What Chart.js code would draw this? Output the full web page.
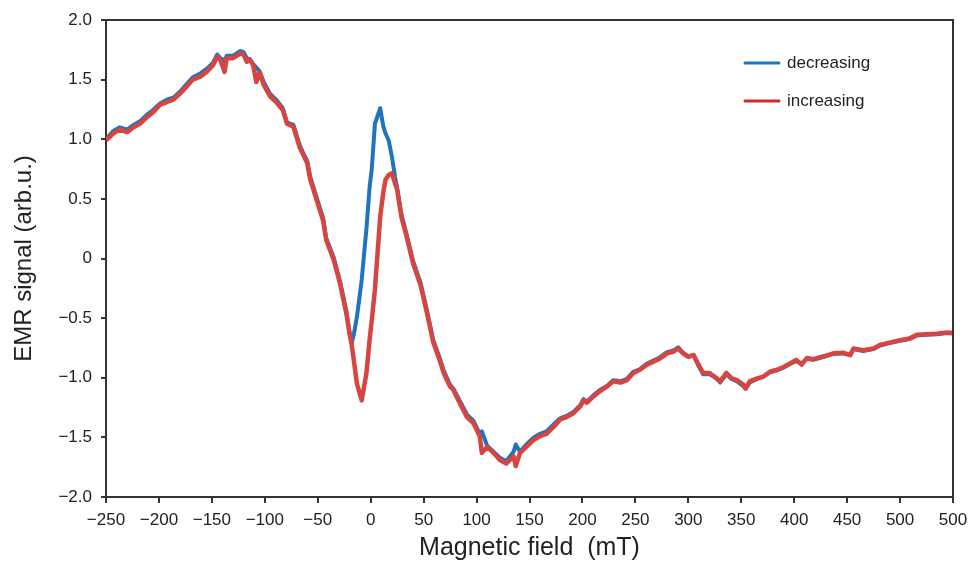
<!DOCTYPE html>
<html>
<head>
<meta charset="utf-8">
<script src="https://cdn.jsdelivr.net/npm/chart.js@4/dist/chart.umd.min.js"></script>
<style>
  html, body { margin: 0; padding: 0; background: #ffffff; }
  #wrap { width: 969px; height: 561px; position: relative; }
</style>
</head>
<body>
<div id="wrap"><canvas id="c" width="969" height="561"></canvas></div>
<script>
// ---- data ----
const field = [-250,-243,-237,-230,-224,-218,-212,-205,-199,-193,-186,-180,-174,-168,-161,-155,-149,-145,-142,-138,-136,-130,-123,-120,-117,-114,-111,-108,-105,-101,-95,-89,-83,-79,-73,-67,-63,-60,-57,-51,-45,-42,-35,-29,-23,-20,-18,-16,-13,-8.5,-4,-1,1,4,9,12,14,17,20,23,25,29,34,40,47,53,59,65,69,72,75,78,84,91,97,103,105,110,116,122,128,135,137,141,147,154,160,166,173,179,185,191,198,201,204,210,217,223,229,236,242,248,254,261,267,273,280,286,290.5,295,300,305,309,314,320,327,330,336,341,346,352,354,358,365,371,377,383,390,396,402,407,412,418,428,437,446,453,456,465,475,481,490,500,509,516,525,535,544,550];

const decreasing = [1.00,1.07,1.10,1.08,1.12,1.15,1.20,1.25,1.30,1.33,1.35,1.40,1.46,1.52,1.55,1.59,1.64,1.71,1.68,1.66,1.70,1.70,1.74,1.73,1.68,1.67,1.63,1.60,1.57,1.48,1.38,1.33,1.26,1.14,1.12,0.95,0.87,0.82,0.68,0.51,0.34,0.17,0.01,-0.19,-0.44,-0.62,-0.71,-0.64,-0.49,-0.18,0.25,0.60,0.75,1.13,1.26,1.105,1.05,0.99,0.855,0.685,0.59,0.37,0.20,-0.02,-0.20,-0.43,-0.68,-0.83,-0.94,-1.00,-1.06,-1.09,-1.19,-1.31,-1.36,-1.47,-1.45,-1.57,-1.62,-1.67,-1.70,-1.62,-1.56,-1.62,-1.56,-1.50,-1.47,-1.45,-1.39,-1.34,-1.32,-1.29,-1.23,-1.18,-1.20,-1.15,-1.10,-1.07,-1.02,-1.03,-1.01,-0.95,-0.93,-0.88,-0.855,-0.83,-0.785,-0.77,-0.745,-0.79,-0.82,-0.81,-0.89,-0.97,-0.97,-1.01,-1.04,-0.97,-1.01,-1.03,-1.07,-1.09,-1.04,-1.01,-0.99,-0.955,-0.94,-0.915,-0.885,-0.86,-0.88,-0.84,-0.85,-0.825,-0.80,-0.795,-0.81,-0.76,-0.775,-0.76,-0.73,-0.71,-0.69,-0.675,-0.645,-0.64,-0.635,-0.625,-0.63];

const increasing = [0.99,1.05,1.08,1.06,1.10,1.13,1.18,1.23,1.29,1.31,1.335,1.385,1.44,1.50,1.525,1.565,1.62,1.69,1.665,1.565,1.68,1.68,1.72,1.71,1.65,1.665,1.62,1.48,1.56,1.455,1.36,1.31,1.245,1.13,1.105,0.93,0.855,0.80,0.66,0.49,0.32,0.155,-0.01,-0.21,-0.46,-0.63,-0.72,-0.85,-1.05,-1.19,-0.96,-0.68,-0.52,-0.26,0.35,0.56,0.66,0.70,0.715,0.63,0.575,0.35,0.18,-0.04,-0.22,-0.45,-0.70,-0.85,-0.96,-1.02,-1.075,-1.10,-1.21,-1.33,-1.38,-1.49,-1.63,-1.58,-1.63,-1.69,-1.72,-1.66,-1.74,-1.63,-1.58,-1.52,-1.49,-1.47,-1.41,-1.35,-1.33,-1.30,-1.24,-1.19,-1.21,-1.16,-1.11,-1.075,-1.03,-1.04,-1.02,-0.96,-0.935,-0.89,-0.865,-0.84,-0.795,-0.78,-0.755,-0.795,-0.825,-0.81,-0.88,-0.96,-0.96,-1.005,-1.03,-0.96,-1.005,-1.02,-1.06,-1.09,-1.03,-1.005,-0.99,-0.95,-0.935,-0.91,-0.88,-0.85,-0.89,-0.835,-0.845,-0.82,-0.795,-0.79,-0.81,-0.755,-0.77,-0.755,-0.725,-0.705,-0.685,-0.67,-0.64,-0.635,-0.63,-0.62,-0.625];

// tick labels exactly as printed (the last one is printed "500" in the original)
const xTickLabels = ['\u2212250','\u2212200','\u2212150','\u2212100','\u221250','0','50','100','150','200','250','300','350','400','450','500','500'];
const yTickLabels = ['\u22122.0','\u22121.5','\u22121.0','\u22120.5','0','0.5','1.0','1.5','2.0'];

const seriesNames = ['decreasing', 'increasing'];
const seriesColors = ['#1f74be', '#d8443f'];
const legendColors = ['#1b76bd', '#d42a2a'];

const FONT = '"Liberation Sans", Arial, Helvetica, sans-serif';
const TEXT = '#222222';

const toPts = (ys) => field.map((x, i) => ({ x: x, y: ys[i] }));

const framePlugin = {
  id: 'frame',
  afterDraw(chart) {
    const { ctx, chartArea: a } = chart;
    ctx.save();
    ctx.strokeStyle = '#333333';
    ctx.lineWidth = 2;
    ctx.beginPath();
    ctx.moveTo(a.left, a.top);
    ctx.lineTo(a.right, a.top);
    ctx.lineTo(a.right, a.bottom);
    ctx.stroke();
    ctx.restore();
  }
};

const legendPlugin = {
  id: 'insideLegend',
  afterDraw(chart) {
    const { ctx } = chart;
    ctx.save();
    ctx.font = '17px ' + FONT;
    ctx.textBaseline = 'middle';
    ctx.textAlign = 'left';
    const rows = [63, 101];
    seriesNames.forEach((name, i) => {
      const y = rows[i];
      ctx.strokeStyle = legendColors[i];
      ctx.lineWidth = 3;
      ctx.lineCap = 'round';
      ctx.beginPath();
      ctx.moveTo(745, y);
      ctx.lineTo(779, y);
      ctx.stroke();
      ctx.fillStyle = TEXT;
      ctx.fillText(name, 787, y);
    });
    ctx.restore();
  }
};

new Chart(document.getElementById('c'), {
  type: 'line',
  data: {
    datasets: [
      { label: seriesNames[0], data: toPts(decreasing), borderColor: seriesColors[0], backgroundColor: seriesColors[0],
        borderWidth: 4, pointRadius: 0, tension: 0, order: 1, borderJoinStyle: 'round' },
      { label: seriesNames[1], data: toPts(increasing), borderColor: seriesColors[1], backgroundColor: seriesColors[1],
        borderWidth: 4.5, pointRadius: 0, tension: 0, order: 0, borderJoinStyle: 'round' }
    ]
  },
  options: {
    responsive: false,
    animation: false,
    devicePixelRatio: 1,
    layout: { padding: { top: 20, right: 16, left: 0, bottom: 0 } },
    plugins: { legend: { display: false }, tooltip: { enabled: false } },
    scales: {
      x: {
        type: 'linear', min: -250, max: 550,
        afterFit(s) { s.height = 64; s.paddingLeft = 0; s.paddingRight = 0; },
        ticks: { stepSize: 50, autoSkip: false, maxRotation: 0, minRotation: 0, padding: 7,
                 color: TEXT, font: { family: FONT, size: 17 },
                 callback: (v, i) => xTickLabels[i] },
        grid: { drawOnChartArea: false, drawTicks: true, tickLength: 6, color: '#333333', lineWidth: 2 },
        border: { display: true, color: '#333333', width: 2 },
        title: { display: true, text: 'Magnetic field  (mT)', color: TEXT,
                 font: { family: FONT, size: 25, lineHeight: 1 }, padding: 0 }
      },
      y: {
        min: -2, max: 2,
        afterFit(s) { s.width = 106; s.paddingTop = 0; s.paddingBottom = 0; },
        ticks: { stepSize: 0.5, padding: 9, color: TEXT, font: { family: FONT, size: 17 },
                 callback: (v, i) => yTickLabels[i] },
        grid: { drawOnChartArea: false, drawTicks: true, tickLength: 5, color: '#333333', lineWidth: 2 },
        border: { display: true, color: '#333333', width: 2 },
        title: { display: true, text: 'EMR signal (arb.u.)', color: TEXT,
                 font: { family: FONT, size: 24, lineHeight: 1 }, padding: { top: 12, bottom: 0 } }
      }
    }
  },
  plugins: [framePlugin, legendPlugin]
});
</script>
</body>
</html>
